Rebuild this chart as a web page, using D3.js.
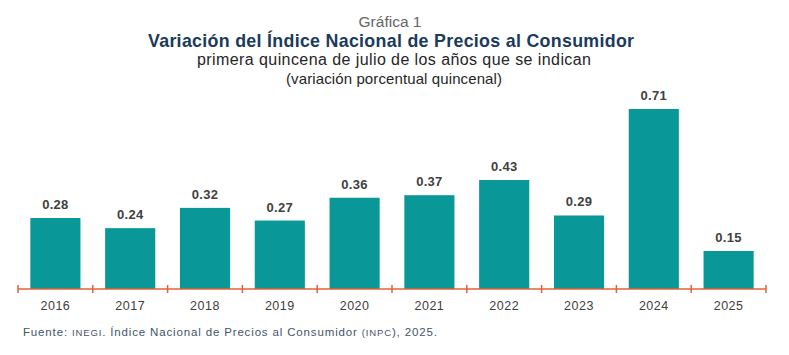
<!DOCTYPE html>
<html>
<head>
<meta charset="utf-8">
<script src="https://cdn.jsdelivr.net/npm/d3@7"></script>
<style>
  html, body { margin: 0; padding: 0; background: #ffffff; }
  svg { display: block; }
  text { font-family: "Liberation Sans", Arial, sans-serif; }
</style>
</head>
<body>
<svg id="chart" width="789" height="355"></svg>
<script>
const years = ["2016","2017","2018","2019","2020","2021","2022","2023","2024","2025"];
const values = [0.28, 0.24, 0.32, 0.27, 0.36, 0.37, 0.43, 0.29, 0.71, 0.15];
const valueLabels = ["0.28","0.24","0.32","0.27","0.36","0.37","0.43","0.29","0.71","0.15"];

const svg = d3.select("#chart");

const x = d3.scaleBand().domain(years).range([18, 766]).paddingInner(0.33).paddingOuter(0.165);
const y = d3.scaleLinear().domain([0, 0.8]).range([289, 289 - 0.8 * 253.5]);

// Titles
svg.append("text").attr("x", 390).attr("y", 27).attr("text-anchor", "middle")
  .attr("font-size", 15.5).attr("fill", "#666666").text("Gráfica 1");
svg.append("text").attr("x", 148).attr("y", 47)
  .attr("font-size", 17.8).attr("font-weight", "bold").attr("fill", "#1b3a5c")
  .attr("textLength", 486).attr("lengthAdjust", "spacing")
  .text("Variación del Índice Nacional de Precios al Consumidor");
svg.append("text").attr("x", 197).attr("y", 65)
  .attr("font-size", 16).attr("fill", "#262626")
  .attr("textLength", 394).attr("lengthAdjust", "spacing")
  .text("primera quincena de julio de los años que se indican");
svg.append("text").attr("x", 286).attr("y", 83.5)
  .attr("font-size", 15).attr("fill", "#262626")
  .attr("textLength", 216).attr("lengthAdjust", "spacing")
  .text("(variación porcentual quincenal)");

// Bars
svg.append("g").selectAll("rect").data(years).join("rect")
  .attr("x", d => x(d))
  .attr("y", (d, i) => y(values[i]))
  .attr("width", x.bandwidth())
  .attr("height", (d, i) => y(0) - y(values[i]))
  .attr("fill", "#099797");

// Value labels
svg.append("g").selectAll("text").data(years).join("text")
  .attr("x", d => x(d) + x.bandwidth() / 2)
  .attr("y", (d, i) => y(values[i]) - 9)
  .attr("text-anchor", "middle")
  .attr("font-size", 13).attr("font-weight", "bold").attr("fill", "#404040")
  .attr("letter-spacing", 0.3)
  .text((d, i) => valueLabels[i]);

// Axis line and ticks
const axisY = y(0);
const [r0, r1] = x.range();
svg.append("line").attr("x1", r0).attr("x2", r1).attr("y1", axisY).attr("y2", axisY)
  .attr("stroke", "#e2603a").attr("stroke-width", 1.5);
const tickPos = d3.range(years.length + 1).map(i => r0 + i * x.step());
svg.append("g").selectAll("line").data(tickPos).join("line")
  .attr("x1", d => d).attr("x2", d => d)
  .attr("y1", axisY - 4).attr("y2", axisY + 4)
  .attr("stroke", "#e2603a").attr("stroke-width", 1.5);

// Category labels
svg.append("g").selectAll("text").data(years).join("text")
  .attr("x", d => x(d) + x.bandwidth() / 2)
  .attr("y", axisY + 21)
  .attr("text-anchor", "middle")
  .attr("font-size", 12.5).attr("fill", "#404040")
  .attr("letter-spacing", 0.5)
  .text(d => d);

// Footer
const foot = svg.append("text").attr("x", 23).attr("y", 335.5)
  .attr("font-size", 11.5).attr("fill", "#44546a").attr("letter-spacing", 0.85);
foot.append("tspan").text("Fuente: ");
foot.append("tspan").attr("font-size", 9.5).text("INEGI");
foot.append("tspan").text(". Índice Nacional de Precios al Consumidor ");
foot.append("tspan").attr("font-size", 9.5).text("(INPC");
foot.append("tspan").text("), 2025.");
</script>
</body>
</html>
